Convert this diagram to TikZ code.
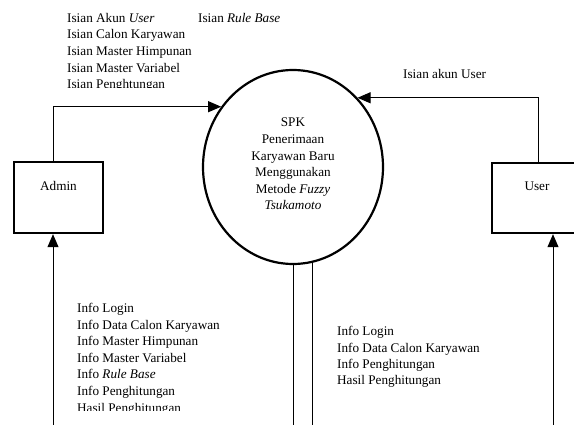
\documentclass[tikz,border=0pt]{standalone}
\usepackage{fontspec}
\setmainfont{Liberation Serif}
\usetikzlibrary{arrows.meta,shapes.geometric}
\begin{document}
\begin{tikzpicture}[x=1pt,y=-1pt,
  txt/.style={font=\fontsize{13.2}{16.6}\selectfont, inner sep=0pt},
  lbl/.style={txt, align=left, anchor=north west},
  entity/.style={draw, line width=2.4pt, minimum width=89pt, minimum height=71pt, inner sep=0pt, txt, text height=8.7pt, text depth=23pt},
  proc/.style={draw, ellipse, line width=2.2pt, minimum width=180pt, minimum height=194pt, inner sep=0pt, txt, align=center, text depth=6pt},
  flow/.style={line width=1pt},
  arr/.style={flow, -{Triangle[length=13pt,width=11pt]}}]
\clip (0,0) rectangle (574,425);
\fill[white] (0,0) rectangle (574,425);

% process
\node[proc] (spk) at (293,167) {SPK\\Penerimaan\\Karyawan Baru\\Menggunakan\\Metode \textit{Fuzzy}\\\textit{Tsukamoto}};

% entities
\node[entity] (admin) at (58.5,197.5) {Admin};
\node[entity, minimum width=90pt, minimum height=70pt] (user) at (537,198) {User};

% helper coordinates
\coordinate (aL) at (53,425);
\coordinate (uT) at (538,0);
\coordinate (uR) at (553,425);
\coordinate (s1) at (293,425);
\coordinate (s2) at (312,425);

% connectors
\draw[arr] (admin.north -| aL) |- (spk.140);
\draw[arr] (user.north -| uT) |- (spk.47);
\draw[arr] (aL) -- (aL |- admin.south);
\draw[arr] (uR) -- (uR |- user.south);
\draw[flow] (s1) -- (spk.south);
\draw[flow] (s2) -- (s2 |- spk.281);

% labels
\begin{scope}
\clip (0,0) rectangle (574,87.3);
\node[lbl] (lblA) at (67,13) {Isian Akun \textit{User}\\Isian Calon Karyawan\\Isian Master Himpunan\\Isian Master Variabel\\Isian Penghtungan};
\end{scope}
\node[lbl] (lblB) at (198,13) {Isian \textit{Rule Base}};
\node[lbl] (lblC) at (403,68.7) {Isian akun User};
\begin{scope}
\clip (0,0) rectangle (574,410);
\node[lbl] (lblD) at (77,303) {Info Login\\Info Data Calon Karyawan\\Info Master Himpunan\\Info Master Variabel\\Info \textit{Rule Base}\\Info Penghitungan\\Hasil Penghitungan};
\end{scope}
\node[lbl, font=\fontsize{13.2}{16.3}\selectfont] (lblE) at (337,326.4) {Info Login\\Info Data Calon Karyawan\\Info Penghitungan\\Hasil Penghitungan};
\end{tikzpicture}
\end{document}
